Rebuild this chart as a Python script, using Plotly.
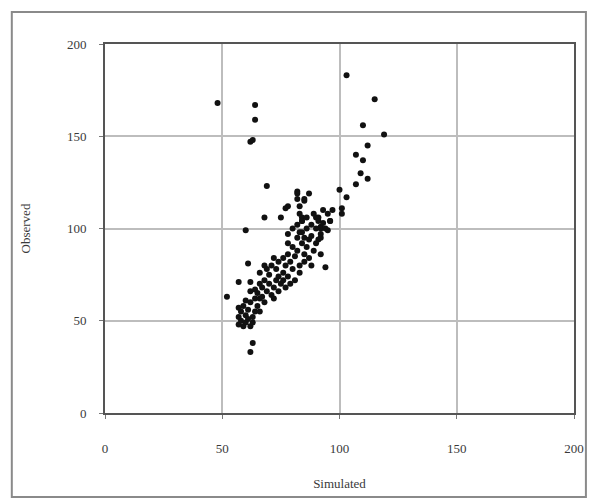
import plotly.graph_objects as go

# Simulated (x) and Observed (y) values
simulated = [
    48, 64, 64, 62, 63, 69, 68, 60, 75, 77, 82,
    103, 115, 110, 119, 112, 107, 110, 109, 112, 107, 100, 103, 101, 101,
    87, 85, 93, 91, 96, 92, 95, 92, 83, 92, 94,
    82, 82, 85, 78, 83, 84, 90, 84, 92, 83, 85, 78, 91,
    61, 57, 52, 62, 63, 62,
    57, 58, 57, 59, 60, 58, 60, 61, 62, 59, 61, 63, 62, 64, 60, 57, 63, 65, 64, 66,
    65, 66, 67, 68, 69, 70, 71, 72, 73, 70, 68, 66, 72, 74, 75, 73, 71, 69, 74, 76, 67, 64, 62, 68, 66,
    76, 77, 78, 79, 80, 81, 82, 83, 84, 85, 86, 87, 82, 80, 78, 84, 86, 88, 89, 85, 79, 81, 77, 83, 87,
    90, 88, 84, 86, 80, 82, 76, 74, 72, 78, 90, 92, 91, 89, 93, 95, 97, 94, 96, 88,
]
observed = [
    168, 167, 159, 147, 148, 123, 106, 99, 106, 111, 120,
    183, 170, 156, 151, 145, 140, 137, 130, 127, 124, 121, 117, 111, 108,
    119, 115, 110, 106, 104, 101, 99, 95, 108, 86, 79,
    119, 116, 116, 112, 112, 106, 106, 104, 100, 98, 95, 97, 94,
    81, 71, 63, 71, 38, 33,
    48, 50, 52, 47, 49, 55, 53, 51, 47, 58, 56, 52, 60, 55, 61, 57, 49, 58, 62, 55,
    65, 62, 68, 60, 66, 70, 64, 68, 72, 75, 72, 70, 62, 66, 70, 78, 80, 78, 74, 72, 63, 67, 66, 80, 76,
    76, 80, 74, 82, 78, 85, 88, 80, 92, 86, 90, 94, 95, 90, 86, 98, 100, 96, 88, 82, 70, 72, 68, 76, 84,
    92, 102, 104, 106, 100, 102, 84, 82, 84, 92, 100, 97, 104, 108, 103, 108, 110, 100, 104, 80,
]
x_ticks = [0, 50, 100, 150, 200]
y_ticks = [0, 50, 100, 150, 200]

fig = go.Figure()
fig.add_trace(go.Scatter(
    x=simulated, y=observed, mode="markers",
    marker=dict(color="#111111", size=6, symbol="circle"),
    showlegend=False, hoverinfo="skip",
))

axis_common = dict(
    showgrid=True, gridcolor="#bdbdbd", gridwidth=1.5,
    showline=True, linecolor="#555555", linewidth=2, mirror=True,
    ticks="outside", ticklen=4, tickcolor="#777777",
    zeroline=False,
    tickfont=dict(family="Liberation Serif", size=13, color="#3a3a3a"),
)

fig.update_xaxes(
    range=[0, 200], tickvals=x_ticks, ticktext=[str(v) for v in x_ticks],
    title=dict(text="Simulated", font=dict(family="Liberation Serif", size=13, color="#3a3a3a"), standoff=24),
    ticklabelstandoff=18,
    **axis_common,
)
fig.update_yaxes(
    range=[0, 200], tickvals=y_ticks, ticktext=[str(v) for v in y_ticks],
    title=dict(text="Observed", font=dict(family="Liberation Serif", size=13, color="#3a3a3a"), standoff=33),
    ticklabelstandoff=10,
    **axis_common,
)

fig.update_layout(
    width=596, height=503,
    margin=dict(l=105, r=18, t=44, b=90),
    paper_bgcolor="white", plot_bgcolor="white",
    shapes=[dict(
        type="rect", xref="paper", yref="paper",
        x0=-0.1987, x1=1.0254, y0=-0.2277, y1=1.0867,
        line=dict(color="#8a8a8a", width=2), fillcolor="rgba(0,0,0,0)", layer="below",
    )],
)

fig.write_html(
    "out.html",
    config={"displayModeBar": False},
    post_script="document.body.style.margin='0';document.body.style.overflow='hidden';",
)
